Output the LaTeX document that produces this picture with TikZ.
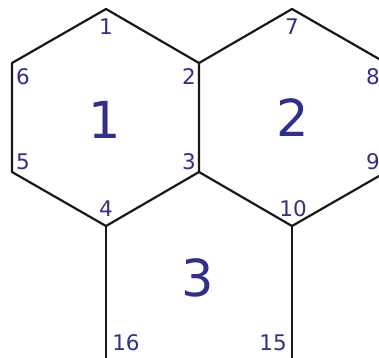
\documentclass[tikz,border=0pt]{standalone}
\usepackage{fontspec}
\setmainfont{DejaVu Sans}
\definecolor{lab}{RGB}{48,48,140}
\begin{document}
\begin{tikzpicture}[x=1pt,y=-1pt,
  edge/.style={line width=2.2pt,black!90,line cap=round,line join=round},
  small/.style={text=lab,font=\fontsize{21.5}{21.5}\selectfont,inner sep=0pt},
  big/.style={text=lab,font=\fontsize{51}{51}\selectfont,inner sep=0pt}]
\useasboundingbox (0,0) rectangle (379,357);
\clip (0,0) rectangle (379,357);
\fill[white] (0,0) rectangle (379,357);
% vertices
\coordinate (v1) at (106,9);
\coordinate (v2) at (199,63);
\coordinate (v3) at (199,172);
\coordinate (v4) at (106,226);
\coordinate (v5) at (12,172);
\coordinate (v6) at (12,63);
\coordinate (v7) at (292,9);
\coordinate (v8) at (386,63);
\coordinate (v9) at (386,172);
\coordinate (v10) at (292,226);
\coordinate (v15) at (292,362);
\coordinate (v16) at (106,362);
% edges
\draw[edge] (v1) -- (v2) -- (v3) -- (v4) -- (v5) -- (v6) -- cycle;
\draw[edge] (v2) -- (v7) -- (v8);
\draw[edge] (v9) -- (v10) -- (v3);
\draw[edge] (v4) -- (v16);
\draw[edge] (v10) -- (v15);
% vertex labels
\node[small] (l1) at (106,27) {1};
\node[small] (l2) at (189,77) {2};
\node[small] (l3) at (189,162) {3};
\node[small] (l4) at (106,209) {4};
\node[small] (l5) at (23,162) {5};
\node[small] (l6) at (23,77) {6};
\node[small] (l7) at (292,27) {7};
\node[small] (l8) at (373,77) {8};
\node[small] (l9) at (373,162) {9};
\node[small] (l10) at (293,209) {10};
\node[small] (l15) at (273,343) {15};
\node[small] (l16) at (126,343) {16};
% face labels
\node[big] (f1) at (105,120) {1};
\node[big] (f2) at (293,118) {2};
\node[big] (f3) at (198,278) {3};
\end{tikzpicture}
\end{document}
